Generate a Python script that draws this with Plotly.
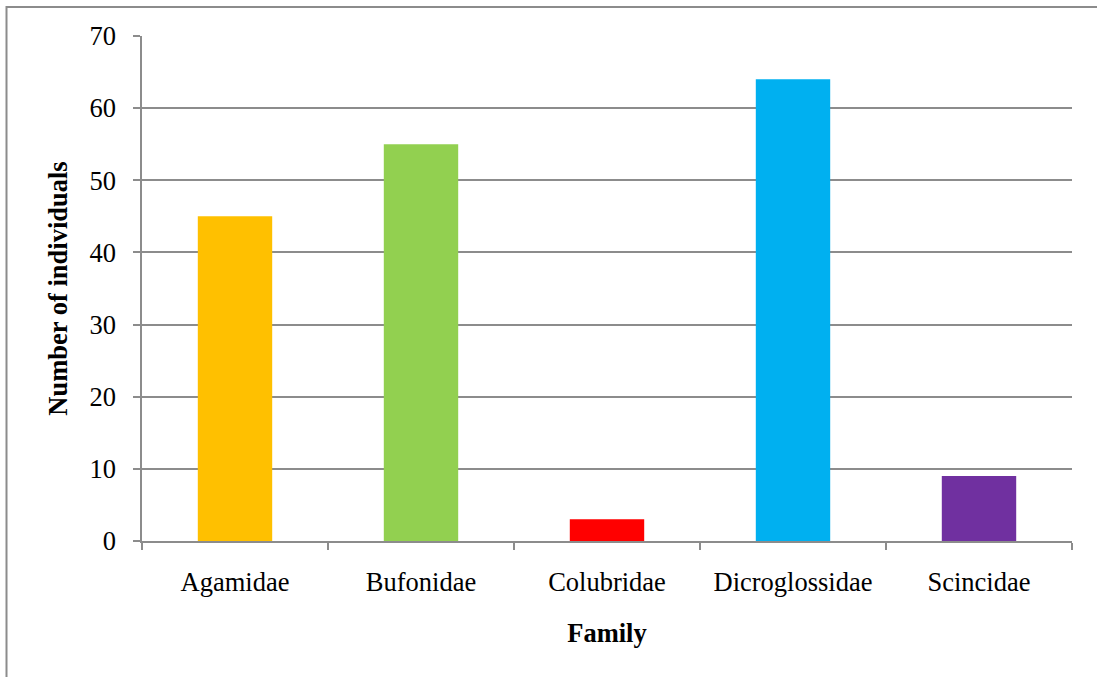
import plotly.graph_objects as go

# Counts of individuals per family
families = ["Agamidae", "Bufonidae", "Colubridae", "Dicroglossidae", "Scincidae"]
counts = [45, 55, 3, 64, 9]
bar_colors = ["#FFC000", "#92D050", "#FF0000", "#00B0F0", "#7030A0"]
y_ticks = [0, 10, 20, 30, 40, 50, 60, 70]

W, H = 1097, 677
ML, MR, MT, MB = 142, 25, 36, 136
pw, ph = W - ML - MR, H - MT - MB

def px_x(x):
    return (x - ML) / pw

def px_y(y):
    return (H - MB - y) / ph

font_family = "Liberation Serif, Times New Roman, serif"
grid_col = "#8c8c8c"
FS = 26.5

fig = go.Figure(
    go.Bar(
        x=families,
        y=counts,
        marker=dict(color=bar_colors, line=dict(width=0)),
        width=0.4,
    )
)

fig.update_layout(
    width=W,
    height=H,
    margin=dict(l=ML, r=MR, t=MT, b=MB),
    paper_bgcolor="white",
    plot_bgcolor="white",
    showlegend=False,
    font=dict(family=font_family, size=FS, color="black"),
    shapes=[
        # outer chart frame
        dict(
            type="rect", xref="paper", yref="paper",
            x0=px_x(6.5), x1=px_x(W + 10),
            y0=px_y(H + 10), y1=px_y(7),
            line=dict(color="#8c8c8c", width=2),
            fillcolor="rgba(0,0,0,0)", layer="below",
        ),
        # small extension of the value axis below zero
        dict(
            type="line", xref="paper", yref="paper",
            x0=0, x1=0, y0=px_y(H - MB + 7), y1=0,
            line=dict(color=grid_col, width=1.5),
        ),
    ],
)

fig.update_xaxes(
    type="category",
    showgrid=False,
    showline=True,
    linecolor=grid_col,
    linewidth=1.5,
    ticks="outside",
    tickson="boundaries",
    ticklen=7,
    tickcolor=grid_col,
    tickwidth=1.5,
    ticklabelstandoff=16,
    tickfont=dict(size=FS),
    title=dict(text="<b>Family</b>", font=dict(size=FS), standoff=28),
)

fig.update_yaxes(
    range=[0, 70],
    tickvals=y_ticks,
    showgrid=True,
    gridcolor=grid_col,
    gridwidth=1.5,
    showline=True,
    linecolor=grid_col,
    linewidth=1.5,
    ticks="outside",
    ticklen=7,
    tickcolor=grid_col,
    tickwidth=1.5,
    ticklabelstandoff=12,
    tickfont=dict(size=FS),
    zeroline=False,
    title=dict(text="<b>Number of individuals</b>", font=dict(size=FS), standoff=14),
)

fig.write_html("out.html")
